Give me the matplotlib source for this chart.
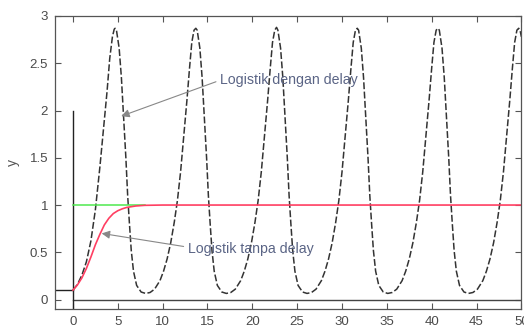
import matplotlib
matplotlib.use("Agg")
import matplotlib.pyplot as plt

# ---- data ----
# logistic with delay (dashed black)
t_delay = [0.0, 0.5, 1.0, 1.5, 2.0, 2.5, 3.0, 3.4, 3.8, 4.1, 4.4, 4.6, 4.7,
           4.85, 5.15, 5.4, 5.7, 5.9, 6.1, 6.3, 6.5, 6.75, 7.1, 7.6, 8.1,
           8.6, 9.1, 9.7, 10.1, 10.5, 10.9, 11.3, 11.65, 12.0, 12.35, 12.7, 13.0, 13.25, 13.5, 13.7,
           13.85, 14.15, 14.4, 14.7, 14.9, 15.1, 15.3, 15.5, 15.75, 16.1, 16.6, 17.1,
           17.6, 18.1, 18.7, 19.1, 19.5, 19.9, 20.3, 20.65, 21.0, 21.35, 21.7, 22.0, 22.25, 22.5, 22.7,
           22.85, 23.15, 23.4, 23.7, 23.9, 24.1, 24.3, 24.5, 24.75, 25.1, 25.6, 26.1,
           26.6, 27.1, 27.7, 28.1, 28.5, 28.9, 29.3, 29.65, 30.0, 30.35, 30.7, 31.0, 31.25, 31.5, 31.7,
           31.85, 32.15, 32.4, 32.7, 32.9, 33.1, 33.3, 33.5, 33.75, 34.1, 34.6, 35.1,
           35.6, 36.1, 36.7, 37.1, 37.5, 37.9, 38.3, 38.65, 39.0, 39.35, 39.7, 40.0, 40.25, 40.5, 40.7,
           40.85, 41.15, 41.4, 41.7, 41.9, 42.1, 42.3, 42.5, 42.75, 43.1, 43.6, 44.1,
           44.6, 45.1, 45.7, 46.1, 46.5, 46.9, 47.3, 47.65, 48.0, 48.35, 48.7, 49.0, 49.25, 49.5, 49.7,
           49.85, 50.0]
y_delay = [0.10, 0.16, 0.26, 0.40, 0.62, 0.95, 1.40, 1.80, 2.20, 2.55, 2.78, 2.86, 2.87,
           2.85, 2.66, 2.35, 1.85, 1.50, 1.10, 0.80, 0.52, 0.30, 0.15, 0.08, 0.065,
           0.075, 0.11, 0.20, 0.30, 0.43, 0.60, 0.82, 1.05, 1.35, 1.72, 2.10, 2.45, 2.72, 2.85, 2.87,
           2.85, 2.66, 2.35, 1.85, 1.50, 1.10, 0.80, 0.52, 0.30, 0.15, 0.08, 0.065,
           0.075, 0.11, 0.20, 0.30, 0.43, 0.60, 0.82, 1.05, 1.35, 1.72, 2.10, 2.45, 2.72, 2.85, 2.88,
           2.85, 2.66, 2.35, 1.85, 1.50, 1.10, 0.80, 0.52, 0.30, 0.15, 0.08, 0.065,
           0.075, 0.11, 0.20, 0.30, 0.43, 0.60, 0.82, 1.05, 1.35, 1.72, 2.10, 2.45, 2.72, 2.85, 2.87,
           2.85, 2.66, 2.35, 1.85, 1.50, 1.10, 0.80, 0.52, 0.30, 0.15, 0.08, 0.065,
           0.075, 0.11, 0.20, 0.30, 0.43, 0.60, 0.82, 1.05, 1.35, 1.72, 2.10, 2.45, 2.72, 2.85, 2.87,
           2.85, 2.66, 2.35, 1.85, 1.50, 1.10, 0.80, 0.52, 0.30, 0.15, 0.08, 0.065,
           0.075, 0.11, 0.20, 0.30, 0.43, 0.60, 0.82, 1.05, 1.35, 1.72, 2.10, 2.45, 2.72, 2.85, 2.87,
           2.85, 2.78]

# logistic without delay (red)
t_logistic = [0.0, 0.5, 1.0, 1.5, 2.0, 2.5, 3.0, 3.5, 4.0, 4.5, 5.0, 5.5, 6.0, 7.0, 8.0, 10.0, 50.0]
y_logistic = [0.10, 0.155, 0.23, 0.33, 0.45, 0.58, 0.69, 0.79, 0.86, 0.91, 0.94, 0.96, 0.975, 0.99, 0.997, 1.0, 1.0]

# carrying capacity (green)
t_capacity = [0.0, 8.0]
y_capacity = [1.0, 1.0]

# history / reference lines (solid black)
t_history = [-2.0, 0.0]
y_history = [0.1, 0.1]
t_axis0 = [0.0, 50.0]
y_axis0 = [0.0, 0.0]
t_vert = [0.0, 0.0]
y_vert = [-0.1, 2.0]

x_ticks = [0, 5, 10, 15, 20, 25, 30, 35, 40, 45, 50]
y_ticks = [0, 0.5, 1, 1.5, 2, 2.5, 3]
y_ticklabels = ["0", "0.5", "1", "1.5", "2", "2.5", "3"]

label_delay = "Logistik dengan delay"
label_nodelay = "Logistik tanpa delay"

# ---- figure ----
plt.rcParams['font.family'] = ['Liberation Sans', 'DejaVu Sans']
fig = plt.figure(figsize=(5.24, 3.33), dpi=100)
ax = fig.add_axes([0.105, 0.072, 0.890, 0.880])

edge = '#555555'
ax.plot(t_history, y_history, color='#222222', lw=1.0)
ax.plot(t_axis0, y_axis0, color='#444444', lw=1.0)
ax.plot(t_vert, y_vert, color='#222222', lw=1.0)
ax.plot(t_delay, y_delay, color='#333333', lw=1.1, linestyle=(0, (4.5, 1.6)))
ax.plot(t_capacity, y_capacity, color='#4ee84e', lw=1.1)
ax.plot(t_logistic, y_logistic, color='#ff3f62', lw=1.2)

ax.set_xlim(-2, 50)
ax.set_ylim(-0.1, 3)
ax.set_xticks(x_ticks)
ax.set_yticks(y_ticks)
ax.set_yticklabels(y_ticklabels)
ax.tick_params(direction='in', top=True, right=True, length=4, width=0.8,
               colors=edge, labelcolor='#4a4a4a', labelsize=9.5, pad=5)
for s in ax.spines.values():
    s.set_color(edge)
    s.set_linewidth(0.9)

ax.set_ylabel('y', color='#555555', fontsize=10)
ax.yaxis.set_label_coords(-0.075, 0.5)
ax.set_xlabel('t', color='#555555', fontsize=10, labelpad=6)

ann_color = '#5a6485'
ax.annotate(label_delay, xy=(5.38, 1.94), xytext=(16.4, 2.32),
            fontsize=10.2, color=ann_color, va='center', ha='left',
            arrowprops=dict(arrowstyle='-|>', color='#888888', lw=0.8,
                            mutation_scale=12, shrinkA=1, shrinkB=0,
                            relpos=(0, 0.5)))
ax.annotate(label_nodelay, xy=(3.2, 0.70), xytext=(12.8, 0.54),
            fontsize=10.2, color=ann_color, va='center', ha='left',
            arrowprops=dict(arrowstyle='-|>', color='#888888', lw=0.8,
                            mutation_scale=12, shrinkA=1, shrinkB=0,
                            relpos=(0, 0.6)))

fig.savefig('out.png', dpi=100)
